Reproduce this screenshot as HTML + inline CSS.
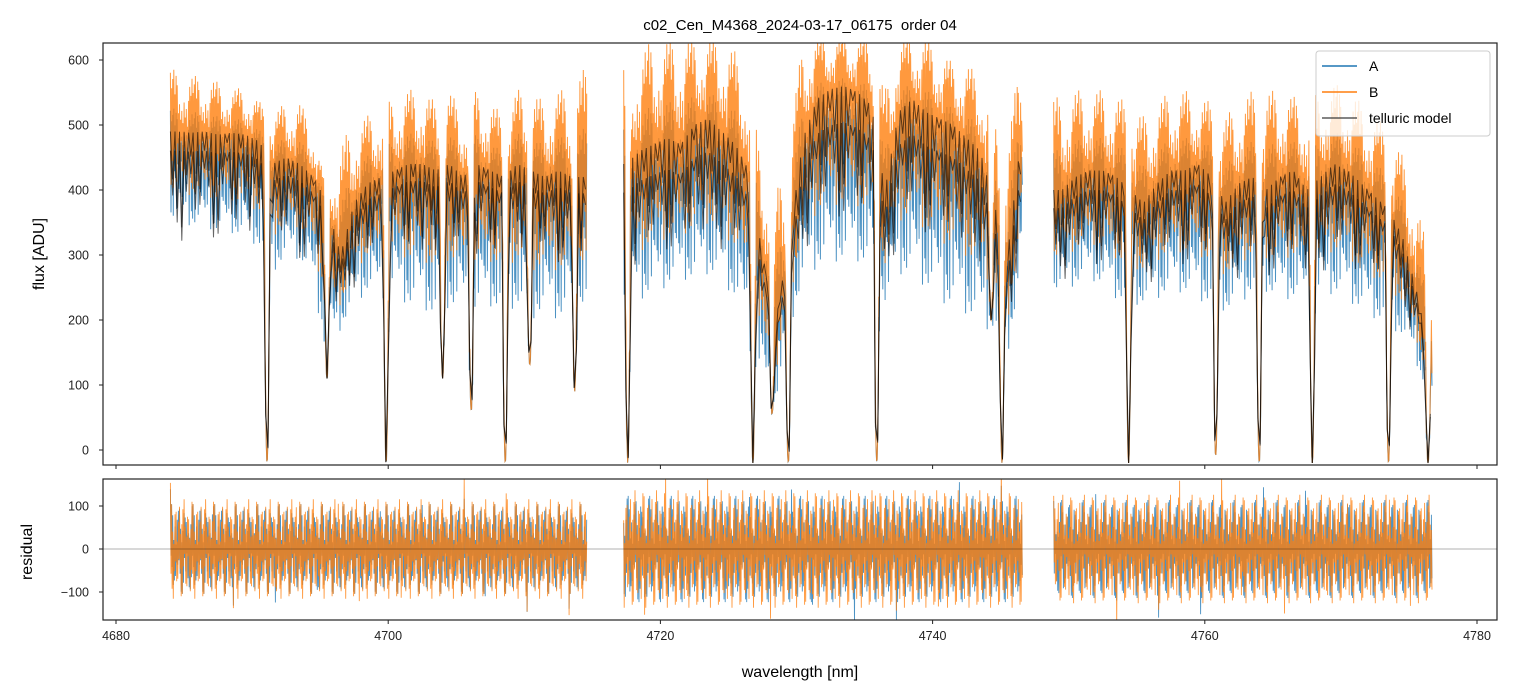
<!DOCTYPE html>
<html><head><meta charset="utf-8"><style>
body{margin:0;background:#fff;}
svg{display:block;font-family:"Liberation Sans","DejaVu Sans",sans-serif;}
</style></head><body>
<svg id="chart" width="1514" height="696" viewBox="0 0 1514 696">
<defs>
<clipPath id="clipTop"><rect x="103" y="43" width="1394" height="422"/></clipPath>
<clipPath id="clipBot"><rect x="103" y="479" width="1394" height="141"/></clipPath>
</defs>
<rect width="1514" height="696" fill="#fff"/>
<text x="800" y="30" text-anchor="middle" font-size="15" style="white-space:pre">c02_Cen_M4368_2024-03-17_06175  order 04</text>
<g id="topMarks" clip-path="url(#clipTop)"></g>
<g id="botMarks" clip-path="url(#clipBot)"></g>
<rect x="103" y="43" width="1394" height="422" fill="none" stroke="#222" stroke-width="1.2"/>
<rect x="103" y="479" width="1394" height="141" fill="none" stroke="#222" stroke-width="1.2"/>
<g id="axes" font-size="12.5" fill="#222"></g>
<text x="800" y="677" text-anchor="middle" font-size="16">wavelength [nm]</text>
<text transform="translate(44,254) rotate(-90)" text-anchor="middle" font-size="16">flux [ADU]</text>
<text transform="translate(32,552) rotate(-90)" text-anchor="middle" font-size="16">residual</text>
<g>
<rect x="1316" y="51" width="174" height="85" rx="3" fill="#fff" fill-opacity="0.8" stroke="#ccc"/>
<line x1="1322" y1="66" x2="1357" y2="66" stroke="#1f77b4" stroke-width="1.5"/>
<text x="1369" y="71" font-size="14">A</text>
<line x1="1322" y1="92" x2="1357" y2="92" stroke="#ff7f0e" stroke-width="1.5"/>
<text x="1369" y="97" font-size="14">B</text>
<line x1="1322" y1="118" x2="1357" y2="118" stroke="#333" stroke-opacity="0.8" stroke-width="1.5"/>
<text x="1369" y="123" font-size="14">telluric model</text>
</g>
</svg>
<script>
// ---- data (per-nm bins starting at 4684) ----
const startNm = 4684;
const segments = [[4684.0,4714.6],[4717.3,4746.6],[4748.9,4776.7]];
const modelB = [490,488,490,485,488,485,475, 440,450,440,420,380,300,380,410,420,
 430,440,440,430,440,420,440,430,420,440,430,420,430,420,420, null,null,
 440,460,470,480,470,500,510,490,470,430,300,200,330,480,540,555,560,550,530,400,520,540,520,510,500,480,460,380,300,480,
 null,null,
 400,420,430,430,420,400,380,410,430,430,440,420,380,410,420,400,420,430,400,420,440,430,410,390,370,330,250,150];
const bHi = [590,580,580,570,560,560,540, 520,540,540,500,400,480,510,520,530,
 550,560,560,540,560,520,560,540,520,560,560,540,560,560,600, null,null,
 600,620,640,640,640,640,640,640,620,560,450,400,500,640,640,640,640,640,640,560,640,640,640,620,600,600,580,520,480,620,
 null,null,
 550,560,560,560,550,540,520,540,560,560,550,540,520,540,560,560,560,550,540,560,570,560,540,520,500,460,400,300];
const aLo = [360,350,350,340,340,330,320, 280,300,300,260,150,190,230,250,240,
 250,230,230,210,230,220,220,230,220,230,210,220,210,220,230, null,null,
 230,240,250,260,270,270,280,270,240,190,100,80,190,270,290,300,300,300,290,230,280,280,260,240,230,220,200,190,150,280,
 null,null,
 250,260,270,260,240,230,230,240,250,250,240,230,220,230,250,250,240,240,230,240,250,240,220,210,200,180,140,80];
const ratioA = [0.94,0.90,0.93];
const deepLinesNm = [4691.1,4695.5,4699.85,4704.0,4706.1,4708.6,4710.4,4713.7,4717.6,4726.8,4728.2,4729.4,4735.9,4744.3,4745.1,4754.4,4760.8,4764.0,4767.9,4773.5,4776.4];
const deepLinesDepth = [-20,110,-20,110,60,-20,130,90,-20,-20,55,-20,-20,200,-20,-20,-10,-20,-20,-20,-20];
const residualAmp = [110,130,120];
const fluxTicks = [0,100,200,300,400,500,600];
const resTicks = [-100,0,100];
const xTicks = [4680,4700,4720,4740,4760,4780];

// ---- axes ----
const X = w => 116 + (w-4680)*13.61;
const YT = v => 450 - v*0.65;
const YB = v => 549 - v*0.43;
const NS = 'http://www.w3.org/2000/svg';
function mk(tag, attrs, parent){const e=document.createElementNS(NS,tag);for(const k in attrs)e.setAttribute(k,attrs[k]);parent.appendChild(e);return e;}
const axesG = document.getElementById('axes');
fluxTicks.forEach(t=>{
  const l=mk('line',{x1:99,x2:103,y1:YT(t),y2:YT(t),stroke:'#222'},axesG);
  
  
  const tx=mk('text',{x:89,y:YT(t)+4.5,'text-anchor':'end'},axesG);tx.textContent=t;
  
  
});
resTicks.forEach(t=>{
  const l=mk('line',{x1:99,x2:103,y1:YB(t),y2:YB(t),stroke:'#222'},axesG);
  
  
  const tx=mk('text',{x:89,y:YB(t)+4.5,'text-anchor':'end'},axesG);tx.textContent=t===-100?'\u2212100':t;
  
  
});
xTicks.forEach(t=>{
  const a=mk('line',{x1:X(t),x2:X(t),y1:465,y2:469,stroke:'#222'},axesG);
  
  
  const b=mk('line',{x1:X(t),x2:X(t),y1:620,y2:624,stroke:'#222'},axesG);
  
  
  const tx=mk('text',{x:X(t),y:640,'text-anchor':'middle'},axesG);tx.textContent=t;
  
  
});

// ---- helpers ----
function interp(arr, w){
  const f=w-startNm-0.5; let i=Math.floor(f); const t=f-i;
  const g=j=>{j=Math.max(0,Math.min(arr.length-1,j));let v=arr[j];
    if(v==null){for(let d=1;d<4;d++){if(j-d>=0&&arr[j-d]!=null)return arr[j-d];if(j+d<arr.length&&arr[j+d]!=null)return arr[j+d];}}return v;};
  return g(i)*(1-t)+g(i+1)*t;
}
function deep(v, w, width){
  for(let i=0;i<deepLinesNm.length;i++){
    const d=Math.abs(w-deepLinesNm[i]);
    if(d<width){const f=d/width; const dep=deepLinesDepth[i]; if(dep<v) v=dep+(v-dep)*f*f;}
  }
  return v;
}
const pat=[0.95,0.35,0.7,0.15,0.85,0.5,1.0,0.25,0.6,0.4,0.9,0.1,0.75,0.55,0.3,0.8,0.45,0.65,0.2];
const topG=document.getElementById('topMarks'), botG=document.getElementById('botMarks');
const steps=24;

// ---- flux series ----
function series(which){
  segments.forEach((s,si)=>{
    const r=ratioA[si]; let pts=[]; let k=0;
    for(let w=s[0]; w<=s[1]; w+=1/steps, k++){
      const m=interp(modelB,w), hi=interp(bHi,w), lo=interp(aLo,w);
      let v;
      const p=pat[k%pat.length], q=pat[(k*7+3)%pat.length];
      if(which==='B'){
        v = (k%2===0) ? m+p*(hi-m)*0.95 : m-q*(m-lo)*0.7;
      } else {
        const ma=m*r;
        v = (k%2===0) ? ma+p*(hi-ma)*0.5 : ma-q*(ma-lo)*1.05;
      }
      v=deep(v,w,0.22);
      pts.push(X(w).toFixed(1)+','+YT(v).toFixed(1));
    }
    const pl=mk('polyline',{points:pts.join(' '),fill:'none',stroke:which==='A'?'#1f77b4':'#ff7f0e','stroke-width':1,'stroke-opacity':0.8},topG);
    
    
  });
}
series('A'); series('B');

// ---- telluric model (two scalings) ----
[1,0].forEach(useB=>{
  segments.forEach((s,si)=>{
    const r=useB?1:ratioA[si]; let pts=[]; let k=0;
    for(let w=s[0]; w<=s[1]; w+=1/6, k++){
      const m=interp(modelB,w)*r;
      let v = (k%2===0)? m : m-(pat[(k*5)%pat.length])*m*0.3;
      v=deep(v,w,0.25);
      pts.push(X(w).toFixed(1)+','+YT(v).toFixed(1));
    }
    const pl=mk('polyline',{points:pts.join(' '),fill:'none',stroke:'#000','stroke-width':1,'stroke-opacity':0.6},topG);
    
    
  });
});

// ---- residuals ----
['A','B'].forEach(which=>{
  segments.forEach((s,si)=>{
    const amp=residualAmp[si]; let pts=[]; let k=0;
    for(let w=s[0]; w<=s[1]; w+=1/steps, k++){
      const p=pat[(k*(which==='A'?3:5)+si)%pat.length];
      const boost=(k%37===0)?1.4:1;
      const v=(k%2===0?1:-1)*p*amp*boost*(which==='A'?0.95:1.05);
      pts.push(X(w).toFixed(1)+','+YB(v).toFixed(1));
    }
    const pl=mk('polyline',{points:pts.join(' '),fill:'none',stroke:which==='A'?'#1f77b4':'#ff7f0e','stroke-width':0.9,'stroke-opacity':0.8},botG);
    
    
  });
});
const zl=mk('line',{x1:103,x2:1497,y1:YB(0),y2:YB(0),stroke:'#000','stroke-width':0.6,'stroke-opacity':0.6},botG);


</script>
</body></html>
